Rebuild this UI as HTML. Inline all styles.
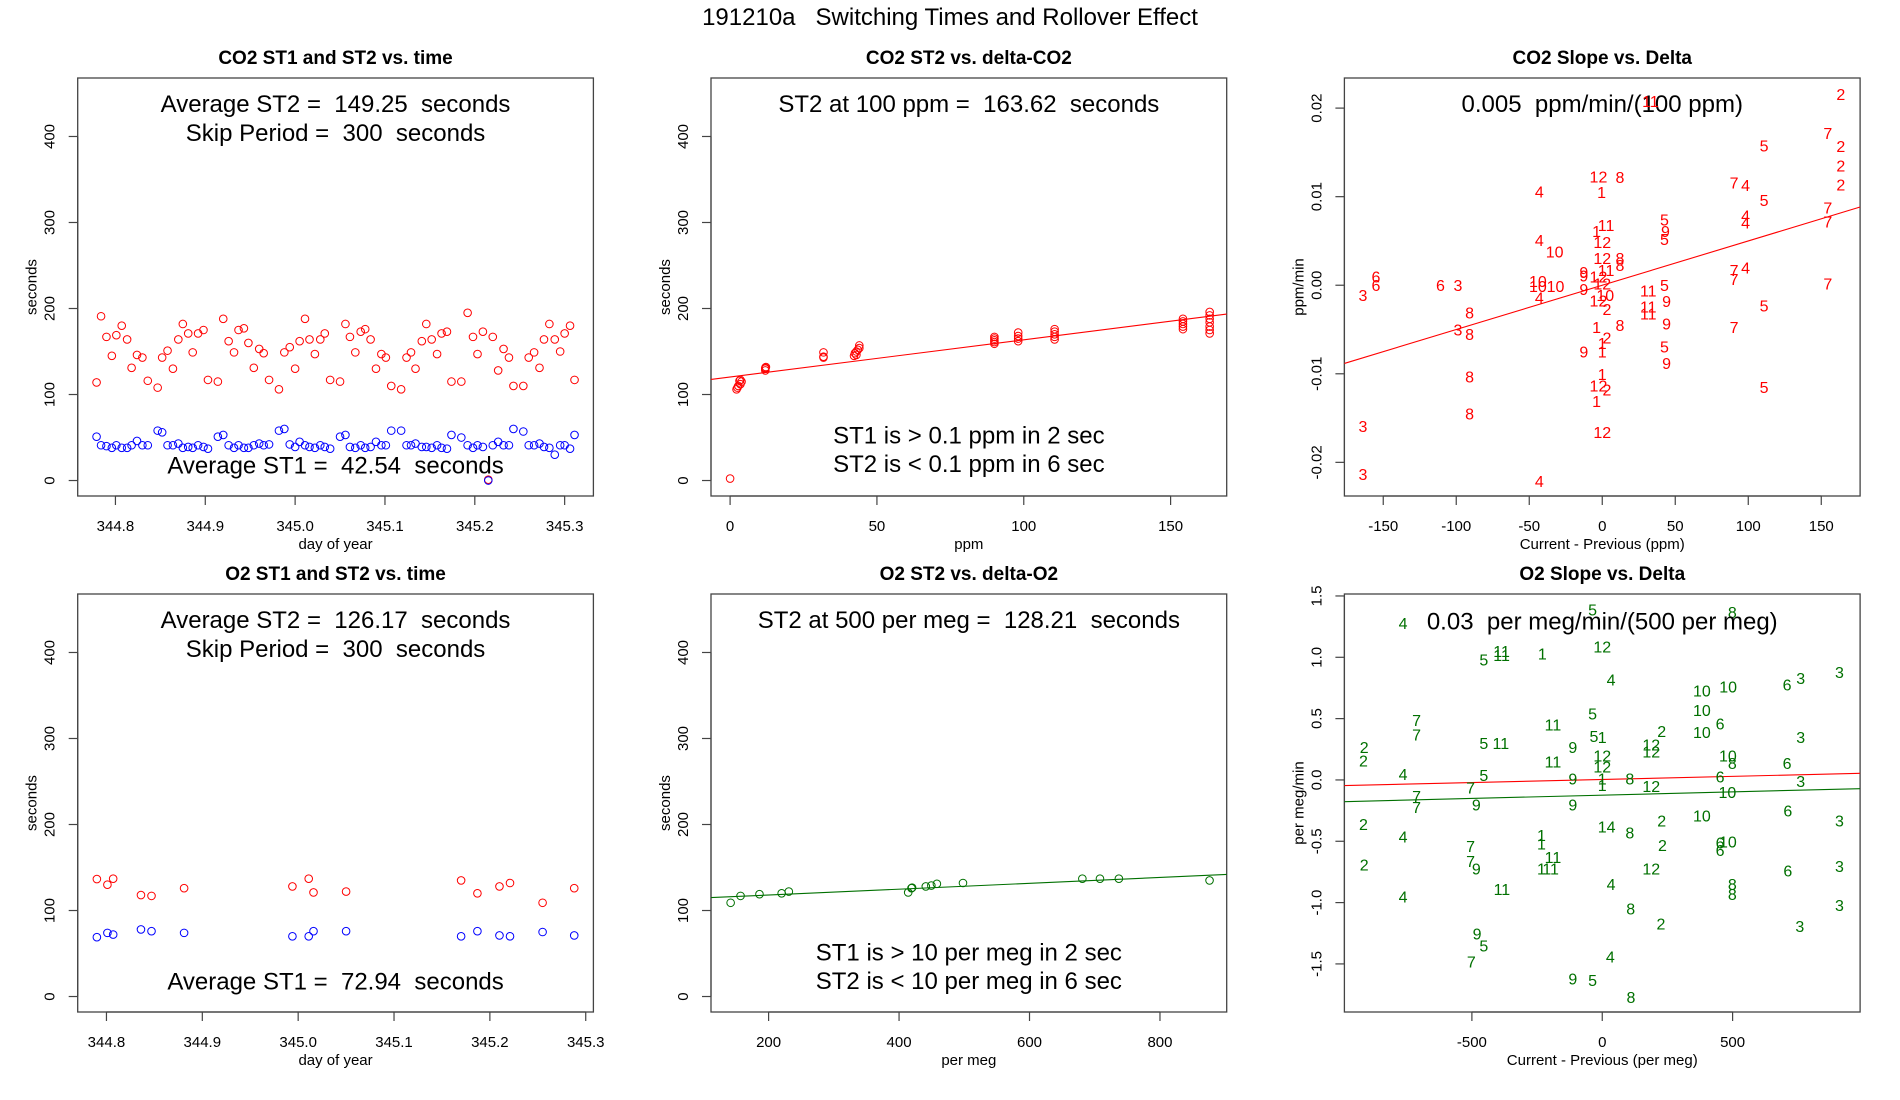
<!DOCTYPE html>
<html><head><meta charset="utf-8">
<style>
html,body{margin:0;padding:0;background:#fff;}
svg{display:block;font-family:"Liberation Sans",Arial,sans-serif;}
</style></head>
<body>
<svg id="chart" width="1900" height="1100" viewBox="0 0 1900 1100" xmlns="http://www.w3.org/2000/svg">
<rect x="0" y="0" width="1900" height="1100" fill="#fff"/>
<text x="950" y="25" font-size="24" text-anchor="middle" xml:space="preserve" style="white-space:pre">191210a   Switching Times and Rollover Effect</text>
</svg>
<script>
// ---------- Panel 1: CO2 ST1 & ST2 vs time ----------
const co2Times = [344.779,344.784,344.790,344.796,344.801,344.807,344.813,344.818,344.824,344.830,344.836,344.847,344.852,344.858,344.864,344.870,344.875,344.881,344.886,344.892,344.898,344.903,344.914,344.920,344.926,344.932,344.937,344.943,344.948,344.954,344.960,344.965,344.971,344.982,344.988,344.994,345.000,345.005,345.011,345.016,345.022,345.028,345.033,345.039,345.050,345.056,345.061,345.067,345.073,345.078,345.084,345.090,345.096,345.101,345.107,345.118,345.124,345.129,345.134,345.141,345.146,345.152,345.158,345.163,345.169,345.174,345.185,345.192,345.198,345.203,345.209,345.215,345.220,345.226,345.232,345.238,345.243,345.254,345.260,345.266,345.272,345.277,345.283,345.289,345.295,345.300,345.306,345.311];
const co2ST2 = [114,191,167,145,169,180,164,131,146,143,116,108,143,151,130,164,182,171,149,171,175,117,115,188,162,149,175,177,160,131,153,148,117,106,149,155,130,162,188,164,147,164,171,117,115,182,167,149,173,176,164,130,147,143,110,106,143,149,130,162,182,164,147,171,173,115,115,195,167,147,173,1,167,128,153,143,110,110,143,149,131,164,182,164,150,171,180,117];
const co2ST1 = [51,41,40,38,41,38,38,41,46,41,41,58,56,41,41,43,38,39,38,41,39,37,51,53,41,38,41,38,38,41,43,41,42,58,60,42,39,45,41,39,38,41,39,37,51,53,39,38,41,38,39,45,41,41,58,58,41,41,43,39,39,38,41,38,37,53,50,41,38,41,39,0,41,45,41,41,60,57,41,41,43,39,38,30,41,41,37,53];
const co2DayTicks = [344.8,344.9,345.0,345.1,345.2,345.3];
const secTicks = [0,100,200,300,400];

// ---------- Panel 2: CO2 ST2 vs delta ----------
const co2Delta = [0,2.2,2.5,2.8,3.5,3.9,3.5,3.2,12,12,12,12.2,31.8,31.8,31.8,42.2,42.5,43,43.5,44,44,43,90,90,90,90,90,98.1,98.1,98.1,98.1,110.5,110.5,110.5,110.5,110.5,154.2,154.2,154.2,154.2,154.2,163.3,163.3,163.3,163.3,163.3,163.3,163.3];
const co2DeltaST2 = [2.3,106,108,110,112,115,117,116,128,130,131,132,149,143,144,145,148,150,152,154,157,146,159,161,163,165,167,162,165,168,172,164,167,170,173,176,176,179,182,185,188,171,175,179,184,188,192,196];
const co2Fit = [120.34, 0.4328]; // intercept, slope
const ppmTicks = [0,50,100,150];

// ---------- Panel 3: CO2 slope vs delta ----------
const co2SlopeLabels = ["2","7","5","2","2","12","8","7","4","2","4","1","5","7","4","5","11","4","7","1","9","5","12","4","10","12","8","8","11","9","9","12","4","7","7","6","6","6","3","10","10","10","7","12","5","11","9","10","3","4","12","9","2","11","11","5","8","3","8","1","8","9","7","2","1","5","9","1","9","8","1","12","2","5","1","8","12","3","3","4","11"];
const co2SlopeX = [163.4,154.5,110.8,163.4,163.4,-2.6,12.1,90.3,98.2,163.4,-43.1,-0.5,110.8,154.5,98.2,42.6,2.6,98.2,154.5,-3.9,43.3,42.6,0,-43.1,-32.6,0,12.1,12.1,2.6,-12.6,-12.6,-2.6,98.2,90.3,90.3,-155,-155,-110.8,-98.8,-44.1,-44.1,-32,154.5,0,42.6,31.5,-12.6,2.1,-163.9,-43.1,-2.6,44.1,3.2,31.5,31.5,110.8,-90.9,-98.8,-90.9,-3.9,12.1,44.1,90.3,3.2,0,42.6,-12.6,0,44.1,-90.9,0,-2.6,3.2,110.8,-3.9,-90.9,0,-163.9,-163.9,-43.1,33];
const co2SlopeY = [0.0216,0.0172,0.0158,0.0157,0.0135,0.0123,0.0122,0.0116,0.0113,0.0114,0.0106,0.0105,0.0096,0.0088,0.0079,0.0074,0.0068,0.0071,0.0072,0.0061,0.0061,0.0052,0.0049,0.0051,0.0038,0.0031,0.0031,0.0023,0.0017,0.0015,0.0011,0.0010,0.0020,0.0017,0.0007,0.0010,0.0000,0.0000,0.0000,0.0005,-0.0001,-0.0001,0.0002,0.0002,0.0000,-0.0006,-0.0004,-0.0011,-0.0011,-0.0014,-0.0017,-0.0018,-0.0027,-0.0024,-0.0032,-0.0023,-0.0031,-0.0050,-0.0055,-0.0047,-0.0045,-0.0043,-0.0047,-0.0059,-0.0065,-0.0069,-0.0075,-0.0075,-0.0088,-0.0103,-0.0100,-0.0113,-0.0118,-0.0115,-0.0131,-0.0145,-0.0166,-0.0159,-0.0213,-0.0221,0.0208];
const co2SlopeFit = [0.0, 0.00005];
const co2SlopeXTicks = [-150,-100,-50,0,50,100,150];
const co2SlopeYTicks = [-0.02,-0.01,0,0.01,0.02];
const co2SlopeYTickLabels = ["-0.02","-0.01","0.00","0.01","0.02"];

// ---------- Panel 4: O2 ST1 & ST2 vs time ----------
const o2Times = [344.790,344.801,344.807,344.836,344.847,344.881,344.994,345.011,345.016,345.050,345.170,345.187,345.210,345.221,345.255,345.288];
const o2ST2 = [136.6,130,137,118,117,126,128,137,121,122,135,120,128,132,109,126];
const o2ST1 = [69,74,72,78,76,74,70,70,76,76,70,76,71,70,75,71];

// ---------- Panel 5: O2 ST2 vs delta ----------
const o2Delta = [141.8,157,186,220,231,414,419,420,441,449.5,458,498,681,708,737,876];
const o2DeltaST2 = [109,117,119,120,122,121,126,126.5,128,129,131,132,137,137,137,135];
const o2Fit = [111.21, 0.034];
const perMegTicks = [200,400,600,800];

// ---------- Panel 6: O2 slope vs delta ----------
const o2SlopeLabels = ["4","5","8","12","5","11","11","1","4","10","10","6","3","3","7","7","5","10","2","6","10","11","5","11","5","1","9","3","2","2","12","12","12","12","10","8","6","11","4","5","9","1","8","6","3","7","1","12","10","7","7","9","9","6","2","10","2","3","1","4","8","4","1","1","2","6","10","6","7","11","11","1","7","9","2","12","3","6","8","8","4","11","4","3","8","2","3","9","5","7","4","9","5","8"];
const o2SlopeX = [-764,-37,499,0,-454,-386,-386,-230,34,382,483,709,761,910,-712,-712,-37,382,228,452,382,-189,-454,-389,-32,0,-113,761,-913,-916,188,188,0,0,482,499,709,-189,-764,-454,-113,0,106,452,761,-505,0,188,480,-712,-712,-483,-113,712,-916,382,228,910,0,34,106,-764,-233,-233,231,452,482,452,-505,-189,-198,-233,-505,-483,-913,188,910,712,499,499,34,-385,-764,910,109,225,758,-480,-454,-502,31,-113,-37,110];
const o2SlopeY = [1.28,1.39,1.37,1.09,0.98,1.05,1.02,1.03,0.82,0.73,0.76,0.78,0.83,0.88,0.49,0.37,0.54,0.57,0.40,0.46,0.39,0.45,0.30,0.30,0.36,0.35,0.27,0.35,0.27,0.16,0.29,0.23,0.20,0.11,0.20,0.14,0.14,0.15,0.05,0.04,0.01,0.01,0.01,0.03,-0.01,-0.06,-0.04,-0.05,-0.10,-0.13,-0.22,-0.20,-0.20,-0.25,-0.36,-0.29,-0.33,-0.33,-0.38,-0.38,-0.43,-0.46,-0.45,-0.52,-0.53,-0.51,-0.50,-0.57,-0.54,-0.63,-0.72,-0.72,-0.66,-0.72,-0.69,-0.72,-0.70,-0.74,-0.85,-0.93,-0.85,-0.89,-0.95,-1.02,-1.05,-1.17,-1.19,-1.25,-1.35,-1.48,-1.44,-1.62,-1.63,-1.77];
const o2SlopeFitRed = [0.004, 0.0000506];
const o2SlopeFitGreen = [-0.124, 0.0000536];
const o2SlopeXTicks = [-500,0,500];
const o2SlopeYTicks = [-1.5,-1,-0.5,0,0.5,1,1.5];
const o2SlopeYTickLabels = ["-1.5","-1.0","-0.5","0.0","0.5","1.0","1.5"];

// ---------- layout ----------
const NS = "http://www.w3.org/2000/svg";
const svg = document.getElementById("chart");
const COLX = [77.7, 711.0, 1344.4];
const ROWY = [78, 594];
const PW = 515.7, PH = 418;
const RED = "#ff0000", BLUE = "#0000ff", GREEN = "#007000";

function mk(tag, attrs, parent) {
  const e = document.createElementNS(NS, tag);
  for (const k in attrs) e.setAttribute(k, attrs[k]);
  (parent || svg).appendChild(e);
  return e;
}
function txt(parent, x, y, s, size, extra) {
  const t = mk("text", Object.assign({x: x, y: y, "font-size": size, "text-anchor": "middle"}, extra || {}), parent);
  t.textContent = s;
  return t;
}

function panel(name, col, row, xlim, ylim, title) {
  const g = mk("g", {});
  
  
  const x0 = COLX[col], y0 = ROWY[row];
  const p = {
    g: g, x0: x0, y0: y0,
    sx: v => x0 + (v - xlim[0]) / (xlim[1] - xlim[0]) * PW,
    sy: v => y0 + PH - (v - ylim[0]) / (ylim[1] - ylim[0]) * PH
  };
  const tt = txt(g, x0 + PW / 2, y0 - 14, title, 19, {"font-weight": "bold"});
  
  
  const box = mk("rect", {x: x0, y: y0, width: PW, height: PH, fill: "none", stroke: "#444", "stroke-width": 1.3}, g);
  
  
  return p;
}
function xAxis(p, ticks, labels, title) {
  const ax = mk("g", {}, p.g);
  
  
  const yb = p.y0 + PH;
  mk("line", {x1: p.sx(ticks[0]), x2: p.sx(ticks[ticks.length - 1]), y1: yb, y2: yb, stroke: "#444", "stroke-width": 1.2}, ax);
  ticks.forEach((v, i) => {
    mk("line", {x1: p.sx(v), x2: p.sx(v), y1: yb, y2: yb + 9, stroke: "#444", "stroke-width": 1.2}, ax);
    const t = txt(ax, p.sx(v), yb + 35, labels ? labels[i] : String(v), 15);
    
    
  });
  const at = txt(ax, p.x0 + PW / 2, yb + 53, title, 15);
  
  
}
function yAxis(p, ticks, labels, title) {
  const ax = mk("g", {}, p.g);
  
  
  const xl = p.x0;
  mk("line", {x1: xl, x2: xl, y1: p.sy(ticks[0]), y2: p.sy(ticks[ticks.length - 1]), stroke: "#444", "stroke-width": 1.2}, ax);
  ticks.forEach((v, i) => {
    const y = p.sy(v);
    mk("line", {x1: xl - 9, x2: xl, y1: y, y2: y, stroke: "#444", "stroke-width": 1.2}, ax);
    const lx = xl - 23;
    const t = txt(ax, lx, y, labels ? labels[i] : String(v), 15, {transform: "rotate(-90 " + lx + " " + y + ")"});
    
    
  });
  const tx = xl - 41, ty = p.y0 + PH / 2;
  const at = txt(ax, tx, ty, title, 15, {transform: "rotate(-90 " + tx + " " + ty + ")"});
  
  
}
function circles(p, xs, ys, color, name) {
  const g = mk("g", {}, p.g);
  
  
  xs.forEach((x, i) => {
    const c = mk("circle", {cx: p.sx(x), cy: p.sy(ys[i]), r: 3.8, fill: "none", stroke: color, "stroke-width": 1}, g);
    
    
  });
}
function labelsPts(p, xs, ys, labs, color, name) {
  const g = mk("g", {}, p.g);
  
  
  xs.forEach((x, i) => {
    const t = txt(g, p.sx(x), p.sy(ys[i]) + 6, labs[i], 16, {fill: color});
    
    
  });
}
function fitLine(p, fit, xlim, color, name) {
  const l = mk("line", {x1: p.sx(xlim[0]), y1: p.sy(fit[0] + fit[1] * xlim[0]), x2: p.sx(xlim[1]), y2: p.sy(fit[0] + fit[1] * xlim[1]), stroke: color, "stroke-width": 1.1}, p.g);
  
  
}
function note(p, y, s) {
  const t = txt(p.g, p.x0 + PW / 2, y, s, 24);
  
  
  t.setAttribute("xml:space", "preserve");
  t.style.whiteSpace = "pre";
}

const SECLIM = [-18, 468];

// Panel 1
const xl1 = [344.758, 345.332];
const p1 = panel("co2-st-vs-time-panel", 0, 0, xl1, SECLIM, "CO2 ST1 and ST2 vs. time");
xAxis(p1, co2DayTicks, co2DayTicks.map(v => v.toFixed(1)), "day of year");
yAxis(p1, secTicks, null, "seconds");
circles(p1, co2Times, co2ST2, RED, "st2-series");
circles(p1, co2Times, co2ST1, BLUE, "st1-series");
note(p1, 112, "Average ST2 =  149.25  seconds");
note(p1, 141, "Skip Period =  300  seconds");
note(p1, 473.5, "Average ST1 =  42.54  seconds");

// Panel 2
const xl2 = [-6.5, 169.1];
const p2 = panel("co2-st2-vs-delta-panel", 1, 0, xl2, SECLIM, "CO2 ST2 vs. delta-CO2");
xAxis(p2, ppmTicks, null, "ppm");
yAxis(p2, secTicks, null, "seconds");
fitLine(p2, co2Fit, xl2, RED, "fit-line");
circles(p2, co2Delta, co2DeltaST2, RED, "st2-series");
note(p2, 112, "ST2 at 100 ppm =  163.62  seconds");
note(p2, 443.5, "ST1 is > 0.1 ppm in 2 sec");
note(p2, 472, "ST2 is < 0.1 ppm in 6 sec");

// Panel 3
const xl3 = [-176.6, 176.6];
const p3 = panel("co2-slope-vs-delta-panel", 2, 0, xl3, [-0.0238, 0.0234], "CO2 Slope vs. Delta");
xAxis(p3, co2SlopeXTicks, null, "Current - Previous (ppm)");
yAxis(p3, co2SlopeYTicks, co2SlopeYTickLabels, "ppm/min");
fitLine(p3, co2SlopeFit, xl3, RED, "fit-line");
note(p3, 112, "0.005  ppm/min/(100 ppm)");
labelsPts(p3, co2SlopeX, co2SlopeY, co2SlopeLabels, RED, "slope-labels");

// Panel 4
const xl4 = [344.770, 345.308];
const p4 = panel("o2-st-vs-time-panel", 0, 1, xl4, SECLIM, "O2 ST1 and ST2 vs. time");
xAxis(p4, co2DayTicks, co2DayTicks.map(v => v.toFixed(1)), "day of year");
yAxis(p4, secTicks, null, "seconds");
circles(p4, o2Times, o2ST2, RED, "st2-series");
circles(p4, o2Times, o2ST1, BLUE, "st1-series");
note(p4, 628, "Average ST2 =  126.17  seconds");
note(p4, 657, "Skip Period =  300  seconds");
note(p4, 989.5, "Average ST1 =  72.94  seconds");

// Panel 5
const xl5 = [111.7, 902.3];
const p5 = panel("o2-st2-vs-delta-panel", 1, 1, xl5, SECLIM, "O2 ST2 vs. delta-O2");
xAxis(p5, perMegTicks, null, "per meg");
yAxis(p5, secTicks, null, "seconds");
fitLine(p5, o2Fit, xl5, GREEN, "fit-line");
circles(p5, o2Delta, o2DeltaST2, GREEN, "st2-series");
note(p5, 628, "ST2 at 500 per meg =  128.21  seconds");
note(p5, 960.5, "ST1 is > 10 per meg in 2 sec");
note(p5, 989, "ST2 is < 10 per meg in 6 sec");

// Panel 6
const xl6 = [-989, 989];
const p6 = panel("o2-slope-vs-delta-panel", 2, 1, xl6, [-1.892, 1.516], "O2 Slope vs. Delta");
xAxis(p6, o2SlopeXTicks, null, "Current - Previous (per meg)");
yAxis(p6, o2SlopeYTicks, o2SlopeYTickLabels, "per meg/min");
fitLine(p6, o2SlopeFitRed, xl6, RED, "fit-line-red");
fitLine(p6, o2SlopeFitGreen, xl6, GREEN, "fit-line-green");
labelsPts(p6, o2SlopeX, o2SlopeY, o2SlopeLabels, GREEN, "slope-labels");
note(p6, 629.5, "0.03  per meg/min/(500 per meg)");
</script>
</body></html>
